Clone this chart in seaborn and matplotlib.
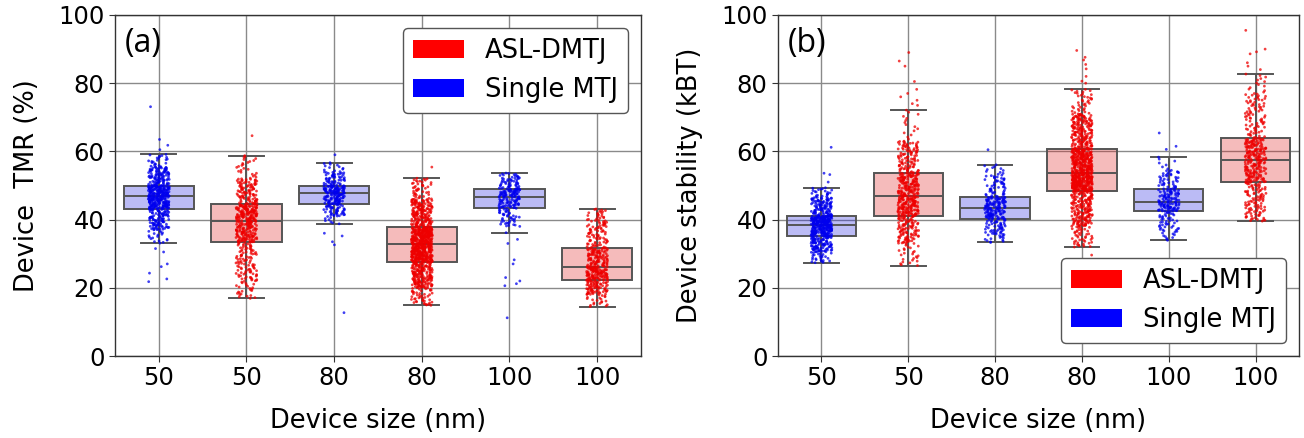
import numpy as np
import pandas as pd
import matplotlib
matplotlib.use("Agg")
import matplotlib.pyplot as plt
import seaborn as sns
from matplotlib.patches import Patch

# ---------------- data ----------------
groups = ["S50", "A50", "S80", "A80", "S100", "A100"]
size_labels = ["50", "50", "80", "80", "100", "100"]
devices = ["Single MTJ", "ASL-DMTJ", "Single MTJ", "ASL-DMTJ", "Single MTJ", "ASL-DMTJ"]
counts = [500, 500, 250, 900, 200, 400]

# (lower whisker, ~5th pct, Q1, median, Q3, ~95th pct, upper whisker)
tmr_s50 = [33.0, 37.0, 43.2, 46.9, 50.0, 55.5, 59.2]
tmr_a50 = [16.8, 22.0, 33.4, 39.6, 44.5, 52.0, 58.9]
tmr_s80 = [38.6, 41.0, 44.7, 47.7, 50.0, 54.0, 56.8]
tmr_a80 = [14.8, 20.0, 27.6, 32.8, 37.7, 46.0, 52.2]
tmr_s100 = [35.2, 38.0, 43.4, 46.7, 49.0, 52.5, 53.7]
tmr_a100 = [14.4, 18.0, 22.4, 26.1, 31.6, 40.0, 43.2]

# points outside the whiskers
tmr_out_s50 = [73.1, 63.5, 61.8, 60.5, 31.5, 30.5, 27.0, 26.2, 24.3, 22.6, 21.8]
tmr_out_a50 = [64.6]
tmr_out_s80 = [59.0, 36.0, 35.2, 33.5, 32.6, 12.7]
tmr_out_a80 = [55.4]
tmr_out_s100 = [34.2, 33.0, 28.2, 27.0, 23.0, 22.0, 21.2, 20.6, 11.2]
tmr_out_a100 = []

stab_s50 = [27.3, 30.5, 35.2, 38.4, 41.1, 46.5, 49.4]
stab_a50 = [26.4, 33.0, 41.1, 47.0, 53.7, 63.0, 72.4]
stab_s80 = [33.2, 35.5, 40.2, 43.5, 46.6, 53.0, 56.2]
stab_a80 = [31.9, 38.0, 48.4, 53.7, 60.8, 71.0, 78.3]
stab_s100 = [33.8, 36.5, 42.4, 45.2, 49.0, 54.5, 58.6]
stab_a100 = [39.5, 42.0, 50.9, 57.6, 63.8, 77.0, 82.9]

stab_out_s50 = [61.2, 53.6, 53.2, 51.0]
stab_out_a50 = [89.0, 86.5, 85.0, 80.5, 78.2, 77.0, 76.0, 75.0, 74.0, 73.5]
stab_out_s80 = [60.5]
stab_out_a80 = [89.6, 87.6, 86.8, 85.5, 84.2, 82.0, 80.6, 80.0, 29.6]
stab_out_s100 = [65.4, 61.5, 60.6]
stab_out_a100 = [95.5, 90.0, 89.2, 88.6, 86.0, 85.0, 84.0]

tmr_stats = [tmr_s50, tmr_a50, tmr_s80, tmr_a80, tmr_s100, tmr_a100]
tmr_out = [tmr_out_s50, tmr_out_a50, tmr_out_s80, tmr_out_a80, tmr_out_s100, tmr_out_a100]
stab_stats = [stab_s50, stab_a50, stab_s80, stab_a80, stab_s100, stab_a100]
stab_out = [stab_out_s50, stab_out_a50, stab_out_s80, stab_out_a80, stab_out_s100, stab_out_a100]


def build_frame(stats, outliers):
    rows = []
    for g, dev, n, st, out in zip(groups, devices, counts, stats, outliers):
        out = np.array(out, dtype=float)
        n_lo = int(np.sum(out < st[0]))
        N = n + len(out)
        # quantile levels of the inner points so that the whole group has the read quartiles
        lv = lambda L: (L * N - n_lo) / n
        levels = [0.0, lv(0.05), lv(0.25), lv(0.5), lv(0.75), lv(0.95), 1.0]
        p = (np.arange(n) + 0.5) / n
        vals = np.interp(p, levels, st)
        vals = np.concatenate([vals, out])
        for v in vals:
            rows.append((g, dev, v))
    return pd.DataFrame(rows, columns=["group", "device", "value"])


df_tmr = build_frame(tmr_stats, tmr_out)
df_stab = build_frame(stab_stats, stab_out)

# ---------------- drawing ----------------
np.random.seed(3)
plt.rcParams["font.family"] = ["DejaVu Sans"]

fig = plt.figure(figsize=(13.04, 4.38), dpi=100)
ax1 = fig.add_axes([115 / 1304, 1 - 356 / 438, 526 / 1304, 341 / 438])
ax2 = fig.add_axes([778 / 1304, 1 - 356 / 438, 521 / 1304, 341 / 438])

box_pal = {"ASL-DMTJ": "red", "Single MTJ": "blue"}
pt_pal = {"ASL-DMTJ": "#ee0000", "Single MTJ": "#0000ee"}
hue_order = ["ASL-DMTJ", "Single MTJ"]


def panel(ax, df, ylabel, tag, legend_loc):
    ax.set_axisbelow(True)
    sns.boxplot(data=df, x="group", y="value", hue="device", order=groups,
                hue_order=hue_order, palette=box_pal, dodge=False, width=0.8,
                showfliers=False, saturation=0.75, linecolor="#555555",
                linewidth=1.4, legend=False, ax=ax)
    for p in ax.patches:
        fc = p.get_facecolor()
        p.set_facecolor((fc[0], fc[1], fc[2], 0.3))
    sns.stripplot(data=df, x="group", y="value", hue="device", order=groups,
                  hue_order=hue_order, palette=pt_pal, dodge=False, jitter=0.12,
                  size=2.0, alpha=0.75, linewidth=0, legend=False, ax=ax, zorder=3)
    ax.grid(True, axis="both", color="#8a8a8a", linewidth=1.0)
    ax.set_ylim(0, 100)
    ax.set_xlim(-0.5, 5.5)
    ax.set_yticks([0, 20, 40, 60, 80, 100])
    ax.set_xticks(range(6))
    ax.set_xticklabels(size_labels)
    ax.tick_params(labelsize=17.5, length=4, color="#333333")
    ax.set_xlabel("Device size (nm)", fontsize=18.5, labelpad=13)
    ax.set_ylabel(ylabel, fontsize=18.5, labelpad=13)
    for s in ax.spines.values():
        s.set_color("#333333")
        s.set_linewidth(1.0)
    ax.text(0.018, 0.915, tag, transform=ax.transAxes, fontsize=23,
            family=["Open Sans", "DejaVu Sans"], ha="left", va="center")
    handles = [Patch(facecolor="#ff0000", edgecolor="none", label="ASL-DMTJ"),
               Patch(facecolor="#0000ff", edgecolor="none", label="Single MTJ")]
    leg = ax.legend(handles=handles, loc=legend_loc, fontsize=18.5,
                    frameon=True, fancybox=True, framealpha=1.0,
                    handlelength=2.0, handleheight=0.7)
    leg.get_frame().set_edgecolor("#555555")


panel(ax1, df_tmr, "Device  TMR (%)", "(a)", "upper right")
panel(ax2, df_stab, "Device stability (kBT)", "(b)", "lower right")

fig.savefig("out.png", dpi=100)
